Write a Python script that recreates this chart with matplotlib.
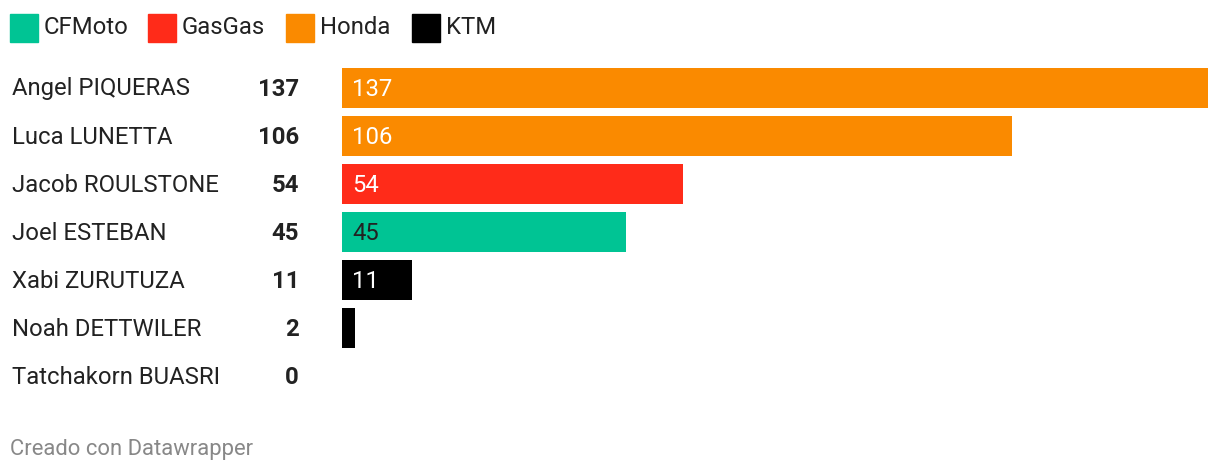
import matplotlib.pyplot as plt
from matplotlib.patches import Rectangle

plt.rcParams['font.family'] = ['Roboto', 'DejaVu Sans']

riders = ["Angel PIQUERAS", "Luca LUNETTA", "Jacob ROULSTONE", "Joel ESTEBAN",
          "Xabi ZURUTUZA", "Noah DETTWILER", "Tatchakorn BUASRI"]
points = [137, 106, 54, 45, 11, 2, 0]
brands = ["Honda", "Honda", "GasGas", "CFMoto", "KTM", "KTM", "KTM"]

brand_names = ["CFMoto", "GasGas", "Honda", "KTM"]
brand_colors = {"CFMoto": "#00c494", "GasGas": "#ff2b19", "Honda": "#fa8a00", "KTM": "#000000"}
label_colors = {"CFMoto": "#222222", "GasGas": "white", "Honda": "white", "KTM": "white"}

W, H = 1220, 474
fig = plt.figure(figsize=(W / 100, H / 100), dpi=100)

# zona de barras en pixeles
left, right, top, bottom = 342, 1208, 64, 400
ax = fig.add_axes([left / W, 1 - bottom / H, (right - left) / W, (bottom - top) / H])

y = list(range(len(riders)))
ax.barh(y, points, height=40 / 48, color=[brand_colors[b] for b in brands])
ax.set_xlim(0, max(points))
ax.set_ylim(len(riders) - 0.5, -0.5)
ax.axis("off")

# desplazamiento de la etiqueta dentro de la barra (10 px)
pad = 10 / (right - left) * max(points)
fs = 17.2

for i, (name, p, b) in enumerate(zip(riders, points, brands)):
    yf = 1 - (89 + 48 * i) / H
    fig.text(12 / W, yf, name, fontsize=fs, color="#222222", va="center", ha="left")
    fig.text(299 / W, yf, str(p), fontsize=fs, color="#222222", va="center", ha="right",
             fontweight="bold")
    if p >= 5:
        ax.text(pad, i + 1 / 48, str(p), fontsize=fs, color=label_colors[b],
                va="center", ha="left")

# leyenda
legend_x = [10, 148, 286, 412]
for x0, name in zip(legend_x, brand_names):
    fig.patches.append(Rectangle((x0 / W, 1 - 42 / H), 28 / W, 28 / H,
                                 transform=fig.transFigure, color=brand_colors[name]))
    fig.text((x0 + 34) / W, 1 - 27 / H, name, fontsize=fs, color="#222222",
             va="center", ha="left")

fig.text(10 / W, 1 - 449 / H, "Creado con Datawrapper", fontsize=15.8, color="#888888",
         va="center", ha="left")

fig.savefig("out.png", dpi=100)
